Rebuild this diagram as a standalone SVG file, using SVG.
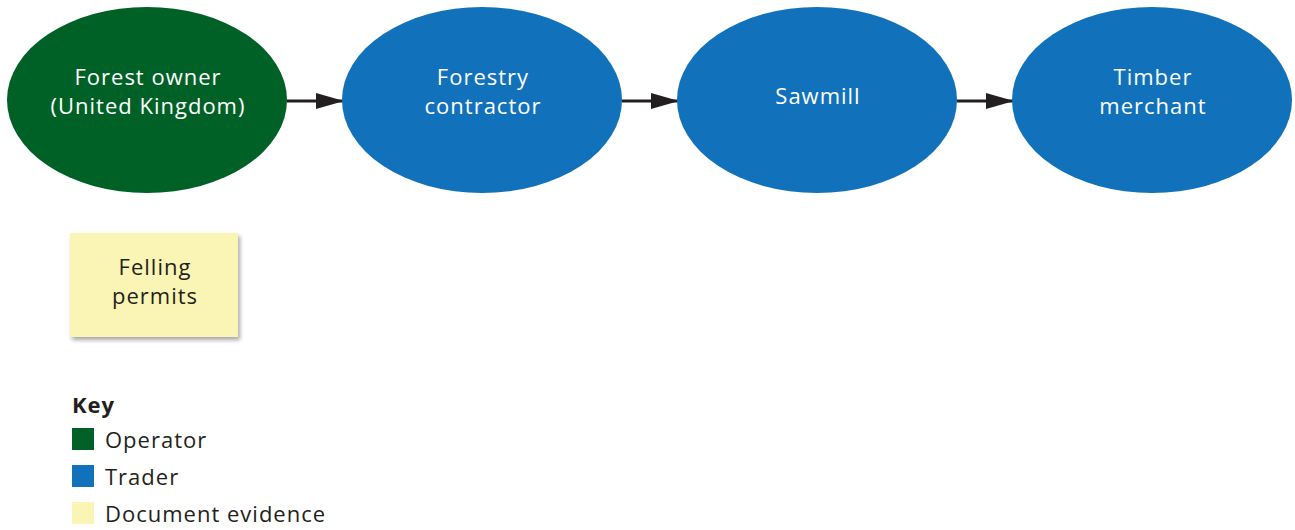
<svg xmlns="http://www.w3.org/2000/svg" width="1295" height="530" viewBox="0 0 1295 530">
<style>
.lbl{font-family:"Open Sans","Noto Sans","Liberation Sans",sans-serif;font-size:22px;letter-spacing:1px;text-anchor:middle}
.w{fill:#ffffff}
.d{fill:#231f20}
.key{font-family:"Open Sans","Noto Sans","Liberation Sans",sans-serif;font-size:22px;letter-spacing:1px;fill:#231f20}
.op{fill:#006127}
.tr{fill:#1172bb}
.doc{fill:#faf5b5}
.conn{stroke:#231f20;stroke-width:3;fill:none}
</style>
<defs>
<marker id="ah" viewBox="0 0 28 16" refX="28" refY="8" markerWidth="28" markerHeight="16" markerUnits="userSpaceOnUse" orient="auto">
<path d="M0,0 L28,8 L0,16 z" fill="#231f20"/>
</marker>
<filter id="sh" x="-10%" y="-10%" width="130%" height="130%">
<feGaussianBlur in="SourceAlpha" stdDeviation="2"/>
<feOffset dx="2" dy="3"/>
<feComponentTransfer><feFuncA type="linear" slope="0.35"/></feComponentTransfer>
<feMerge><feMergeNode/><feMergeNode in="SourceGraphic"/></feMerge>
</filter>
</defs>
<rect width="1295" height="530" fill="#ffffff"/>
<g id="connectors">
<line class="conn" x1="287" y1="101" x2="344" y2="101" marker-end="url(#ah)"/>
<line class="conn" x1="622" y1="101" x2="679" y2="101" marker-end="url(#ah)"/>
<line class="conn" x1="957" y1="101" x2="1014" y2="101" marker-end="url(#ah)"/>
</g>
<g id="forest-owner">
<ellipse class="op" cx="147" cy="100" rx="140" ry="93"/>
<text class="lbl w" x="148" y="85">Forest owner</text>
<text class="lbl w" x="148" y="114">(United Kingdom)</text>
</g>
<g id="forestry-contractor">
<ellipse class="tr" cx="482" cy="100" rx="140" ry="93"/>
<text class="lbl w" x="483" y="85">Forestry</text>
<text class="lbl w" x="483" y="114">contractor</text>
</g>
<g id="sawmill">
<ellipse class="tr" cx="817" cy="100" rx="140" ry="93"/>
<text class="lbl w" x="818" y="104">Sawmill</text>
</g>
<g id="timber-merchant">
<ellipse class="tr" cx="1152" cy="100" rx="140" ry="93"/>
<text class="lbl w" x="1153" y="85">Timber</text>
<text class="lbl w" x="1153" y="114">merchant</text>
</g>
<g id="felling-permits">
<rect class="doc" x="70" y="233" width="168" height="104" filter="url(#sh)"/>
<text class="lbl d" x="155" y="275">Felling</text>
<text class="lbl d" x="155" y="304">permits</text>
</g>
<g id="key">
<text class="key" x="72" y="413" font-weight="bold" letter-spacing="0.5">Key</text>
<rect class="op" x="72" y="428" width="22" height="22"/>
<text class="key" x="105" y="448">Operator</text>
<rect class="tr" x="72" y="465" width="22" height="22"/>
<text class="key" x="105" y="485">Trader</text>
<rect class="doc" x="72" y="502" width="22" height="22"/>
<text class="key" x="105" y="522">Document evidence</text>
</g>
</svg>
